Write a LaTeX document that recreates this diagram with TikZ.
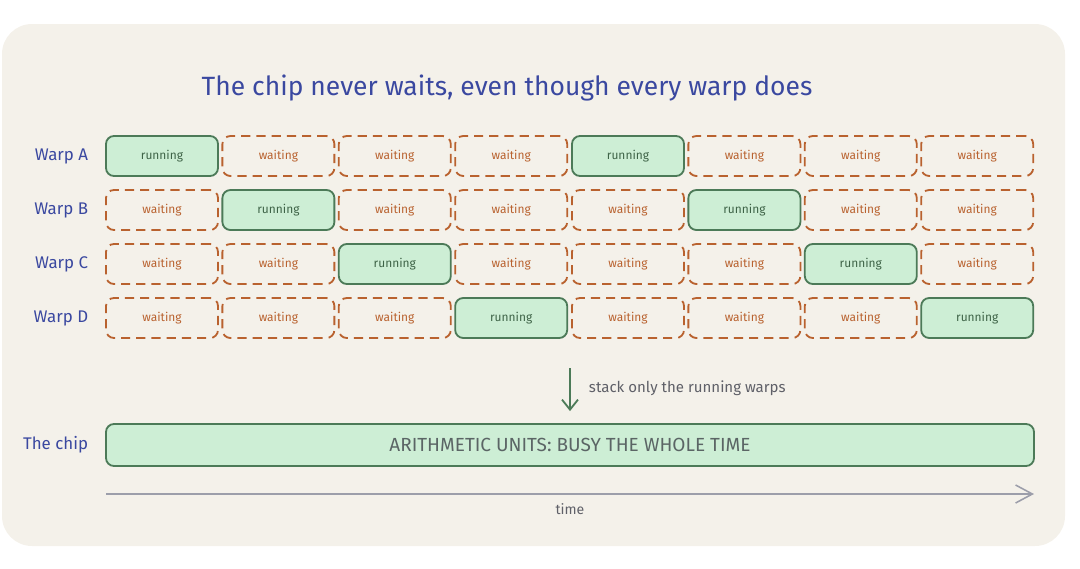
\documentclass[tikz,border=0pt]{standalone}
\usepackage{fontspec}
\setmainfont{Fira Sans}
\usepackage{tikz}
\usetikzlibrary{calc}
\usetikzlibrary{arrows.meta}
\definecolor{paper}{HTML}{F4F1EA}
\definecolor{runfill}{HTML}{CDEED5}
\definecolor{rundraw}{HTML}{4C7A58}
\definecolor{waitdraw}{HTML}{B9622F}
\definecolor{titleblue}{HTML}{3A48A0}
\definecolor{notegray}{HTML}{5F6068}
\definecolor{axisgray}{HTML}{9C9EAA}
\tikzstyle{running} = [rectangle, rounded corners=0.2cm,
minimum width=2.8cm,
minimum height=1cm,
text centered,
line width=1.3pt,
draw=rundraw,
fill=runfill,
text=rundraw!80!black,
font=\fontsize{8.5}{10}\selectfont]
\tikzstyle{waiting} = [rectangle, rounded corners=0.2cm,
minimum width=2.8cm,
minimum height=1cm,
text centered,
line width=1.3pt,
dash pattern=on 0.23cm off 0.15cm,
draw=waitdraw,
text=waitdraw,
font=\fontsize{8.5}{10}\selectfont]
\tikzstyle{warplabel} = [anchor=east, text=titleblue, font=\fontsize{12}{14}\selectfont]
\tikzstyle{arrow} = [line width=1.3pt, rundraw, -{Straight Barb[length=0.25cm, width=0.4cm]}]

\begin{document}
\begin{tikzpicture}

    % the paper
    \useasboundingbox (0,0) rectangle (27,-14.2);
    \fill [paper, rounded corners=0.75cm] (0.05,-0.6) rectangle (26.625,-13.65);

    % the title
    \node (Title) [text=titleblue, font=\fontsize{18.8}{22}\selectfont] at (12.675,-2.2) {The chip never waits, even though every warp does};

    % warp A
    \node (A1) [running] at (4.05,-3.9) {running};
    \node (A2) [waiting] at ($(A1) + (2.91,0)$) {waiting};
    \node (A3) [waiting] at ($(A1) + (5.82,0)$) {waiting};
    \node (A4) [waiting] at ($(A1) + (8.73,0)$) {waiting};
    \node (A5) [running] at ($(A1) + (11.65,0)$) {running};
    \node (A6) [waiting] at ($(A1) + (14.56,0)$) {waiting};
    \node (A7) [waiting] at ($(A1) + (17.47,0)$) {waiting};
    \node (A8) [waiting] at ($(A1) + (20.38,0)$) {waiting};

    % warp B
    \node (B1) [waiting] at ($(A1) + (0,-1.35)$) {waiting};
    \node (B2) [running] at ($(B1) + (2.91,0)$) {running};
    \node (B3) [waiting] at ($(B1) + (5.82,0)$) {waiting};
    \node (B4) [waiting] at ($(B1) + (8.73,0)$) {waiting};
    \node (B5) [waiting] at ($(B1) + (11.65,0)$) {waiting};
    \node (B6) [running] at ($(B1) + (14.56,0)$) {running};
    \node (B7) [waiting] at ($(B1) + (17.47,0)$) {waiting};
    \node (B8) [waiting] at ($(B1) + (20.38,0)$) {waiting};

    % warp C
    \node (C1) [waiting] at ($(A1) + (0,-2.7)$) {waiting};
    \node (C2) [waiting] at ($(C1) + (2.91,0)$) {waiting};
    \node (C3) [running] at ($(C1) + (5.82,0)$) {running};
    \node (C4) [waiting] at ($(C1) + (8.73,0)$) {waiting};
    \node (C5) [waiting] at ($(C1) + (11.65,0)$) {waiting};
    \node (C6) [waiting] at ($(C1) + (14.56,0)$) {waiting};
    \node (C7) [running] at ($(C1) + (17.47,0)$) {running};
    \node (C8) [waiting] at ($(C1) + (20.38,0)$) {waiting};

    % warp D
    \node (D1) [waiting] at ($(A1) + (0,-4.05)$) {waiting};
    \node (D2) [waiting] at ($(D1) + (2.91,0)$) {waiting};
    \node (D3) [waiting] at ($(D1) + (5.82,0)$) {waiting};
    \node (D4) [running] at ($(D1) + (8.73,0)$) {running};
    \node (D5) [waiting] at ($(D1) + (11.65,0)$) {waiting};
    \node (D6) [waiting] at ($(D1) + (14.56,0)$) {waiting};
    \node (D7) [waiting] at ($(D1) + (17.47,0)$) {waiting};
    \node (D8) [running] at ($(D1) + (20.38,0)$) {running};

    % the row labels
    \node (LabA) [warplabel] at ($(A1.west) + (-0.3,0)$) {Warp A};
    \node (LabB) [warplabel] at ($(B1.west) + (-0.3,0)$) {Warp B};
    \node (LabC) [warplabel] at ($(C1.west) + (-0.3,0)$) {Warp C};
    \node (LabD) [warplabel] at ($(D1.west) + (-0.3,0)$) {Warp D};

    % the chip
    \node (Chip) [running, minimum width=23.2cm, minimum height=1.05cm, text=notegray!80!rundraw, font=\fontsize{13.5}{16}\selectfont] at (14.25,-11.125) {ARITHMETIC UNITS: BUSY THE WHOLE TIME};
    \node (LabChip) [warplabel] at ($(Chip.west) + (-0.3,0)$) {The chip};

    % the connectors
    \coordinate (StackTop) at (14.25,-9.2);
    \draw [arrow] (StackTop) -- ($(Chip.north) + (0,0.3)$);
    \node (StackNote) [anchor=west, text=notegray, font=\fontsize{10.7}{13}\selectfont] at (14.6,-9.7) {stack only the running warps};

    % the time axis
    \coordinate (TStart) at (2.65,-12.35);
    \coordinate (TEnd) at (25.85,-12.35);
    \draw [axisgray, line width=1.1pt, -{Straight Barb[length=0.42cm, width=0.45cm]}] (TStart) -- (TEnd);
    \node (TimeNote) [text=notegray, font=\fontsize{10}{12}\selectfont] at ($0.5*(TStart) + 0.5*(TEnd) + (0,-0.38)$) {time};

\end{tikzpicture}
\end{document}
